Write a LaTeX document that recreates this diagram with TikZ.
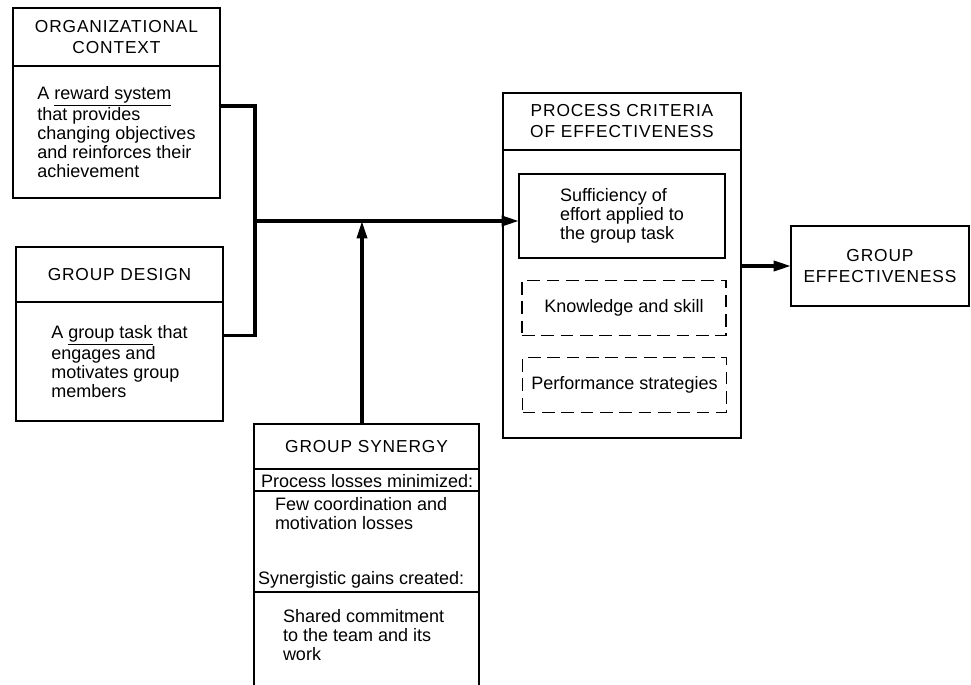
\documentclass[tikz,border=0pt]{standalone}
\usepackage{fontspec}
\setmainfont{Liberation Sans}
\newfontfamily\capsfont[LetterSpace=5]{Liberation Sans}
\usepackage{tikz}
\usetikzlibrary{positioning}
\usetikzlibrary{arrows.meta}
\tikzset{
  every node/.style={font=\fontsize{13.5}{14.25}\selectfont, inner sep=0pt, outer sep=0pt},
  headbox/.style={draw, line width=1.2pt, align=center, font=\capsfont\fontsize{13}{15.75}\selectfont},
  bodybox/.style={draw, line width=1.2pt, align=left},
  dashbox/.style={draw, line width=1.1pt, dash pattern=on 9.5pt off 5pt, minimum width=153pt, minimum height=41pt},
  conn/.style={line width=2.6pt},
  tip/.style={-{Triangle[length=13pt,width=7.5pt]}},
}

\begin{document}
\begin{tikzpicture}[x=0.75pt,y=-0.75pt]
\useasboundingbox (0,0) rectangle (971,685);
% organizational context
\node[headbox, minimum width=155.25pt, minimum height=43.5pt] (orghead) at (116.5,37) {ORGANIZATIONAL\\CONTEXT};
\node[bodybox, minimum width=155.25pt, minimum height=99pt, below=0pt of orghead] (orgbody)
  {A \underline{reward system}\\that provides\\changing objectives\\and reinforces their\\achievement};
% group design
\node[headbox, minimum width=155.25pt, minimum height=41.25pt] (designhead) at (119.5,274.5) {GROUP DESIGN};
\node[bodybox, minimum width=155.25pt, minimum height=89.25pt, below=0pt of designhead] (designbody)
  {A \underline{group task} that\\engages and\\motivates group\\members};
% process criteria
\node[headbox, minimum width=178.5pt, minimum height=42.75pt] (prochead) at (622,121.5) {PROCESS CRITERIA\\OF EFFECTIVENESS};
\node[draw, line width=1.2pt, minimum width=178.5pt, minimum height=216pt, below=0pt of prochead] (procbody) {};
\node[bodybox, minimum width=154.5pt, minimum height=63pt] (suff) at (622,216) {Sufficiency of\\effort applied to\\the group task};
\foreach \n/\x/\y/\t in {know/624/308/Knowledge and skill, perf/624.5/385/Performance strategies}
  \node[dashbox] (\n) at (\x,\y) {\t};
% group effectiveness
\node[headbox, minimum width=133.5pt, minimum height=60pt] (effect) at (880,266) {GROUP\\EFFECTIVENESS};
% group synergy
\node[headbox, minimum width=168.75pt, minimum height=33.75pt] (synhead) at (366.5,446.5) {GROUP SYNERGY};
\node[minimum width=168.75pt, minimum height=162pt, below=0pt of synhead] (synbody) {};
\draw[line width=1.2pt] (synbody.south west) -- (synbody.north west) (synbody.north east) -- (synbody.south east);
\node[anchor=base west] (losses) at (261,487) {Process losses minimized:};
\node[anchor=north west, align=left] (lossesdesc) at (275,497) {Few coordination and\\motivation losses};
\node[anchor=base west] (gains) at (258,584) {Synergistic gains created:};
\node[anchor=north west, align=left] (gainsdesc) at (283,609) {Shared commitment\\to the team and its\\work};
\draw[line width=1.2pt] ([yshift=-3pt]losses.base -| synbody.west) -- ([yshift=-3pt]losses.base -| synbody.east);
\draw[line width=1.2pt] ([yshift=-6pt]gains.base -| synbody.west) -- ([yshift=-6pt]gains.base -| synbody.east);
% connectors
\coordinate (join) at (255,221);
\draw[conn] ([yshift=19.5pt]orgbody.east) -| (join) |- ([yshift=19.5pt]designbody.east);
\draw[conn, tip] (join) -- (join -| suff.west);
\draw[conn, tip] ([xshift=-3.4pt]synhead.north) -- ([xshift=-3.4pt]synhead.north |- join);
\draw[conn, tip] (effect.west -| procbody.east) -- (effect.west);
\end{tikzpicture}
\end{document}
